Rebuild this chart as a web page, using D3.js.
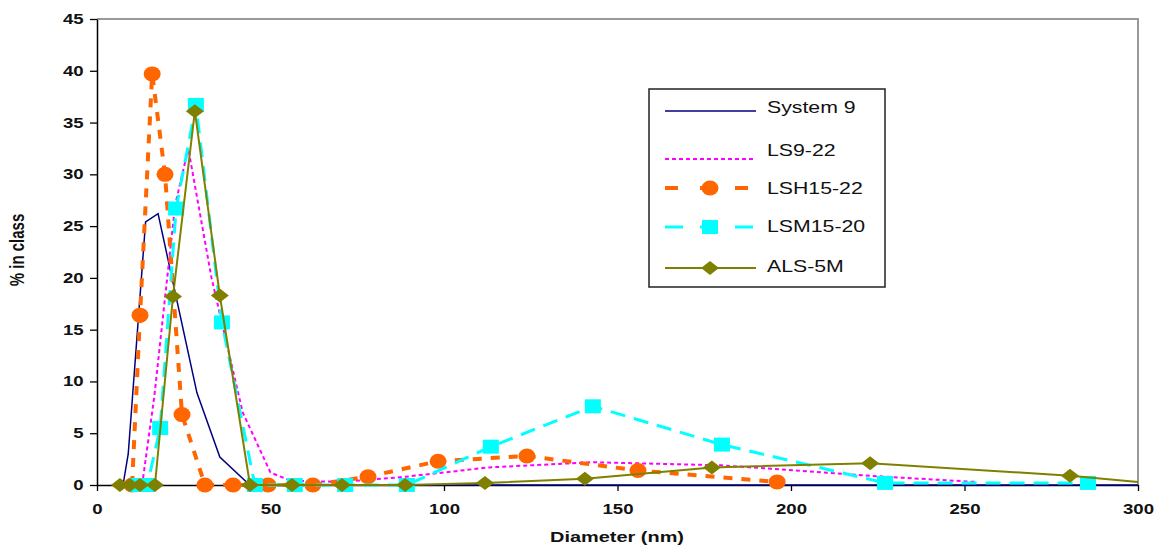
<!DOCTYPE html>
<html>
<head>
<meta charset="utf-8">
<script src="https://cdn.jsdelivr.net/npm/d3@7"></script>
<style>
  body { margin: 0; background: #fff; }
  text { font-family: "Liberation Sans", Arial, sans-serif; fill: #111; }
</style>
</head>
<body>
<div id="chart"></div>
<script>
// donnees
var sys9X = [7.5, 9, 14, 17.6, 28.8, 35.4, 44, 300];
var sys9Y = [0, 3, 25.4, 26.2, 8.9, 2.7, 0, 0];

var ls922X = [13, 16.5, 22.5, 26.3, 33, 42, 50, 56, 71, 89, 113, 143, 180, 227, 253];
var ls922Y = [0, 8.5, 27, 32.5, 20, 7, 1.2, 0.4, 0.3, 0.8, 1.7, 2.2, 1.9, 0.8, 0.3];

var lsh1522X = [10.1, 12.4, 15.9, 19.6, 24.5, 31.1, 39.2, 49.3, 62.2, 78.1, 98.3, 123.9, 155.9, 196];
var lsh1522Y = [0, 16.4, 39.7, 30, 6.8, 0, 0, 0, 0, 0.8, 2.3, 2.8, 1.4, 0.3];

var lsm1520X = [11.5, 14.5, 18.2, 22.8, 28.5, 36, 45.5, 57, 71.5, 89.3, 113.5, 142.9, 180.1, 227.1, 285.6];
var lsm1520Y = [0, 0, 5.5, 26.7, 36.7, 15.7, 0, 0, 0, 0, 3.7, 7.6, 3.9, 0.2, 0.2];

var als5mX = [6.6, 9.5, 12.4, 16.7, 21.9, 28.2, 35.4, 44.1, 56.2, 70.6, 88.8, 111.8, 140.6, 177.2, 222.8, 280.4, 300];
var als5mY = [0, 0, 0, 0, 18.2, 36.1, 18.3, 0, 0, 0, 0, 0.2, 0.6, 1.7, 2.1, 0.9, 0.3];

var xTicks = [0, 50, 100, 150, 200, 250, 300];
var yTicks = [0, 5, 10, 15, 20, 25, 30, 35, 40, 45];

var seriesNames = ["System 9", "LS9-22", "LSH15-22", "LSM15-20", "ALS-5M"];

// taille du svg
const width = 1156, height = 548;
const plot = { left: 97, right: 1138, top: 19, bottom: 485 };
const stretch = 1.33; // le texte de l'image est etire horizontalement

var svg = d3.select("#chart")
  .append("svg")
  .attr("width", width)
  .attr("height", height);

var x = d3.scaleLinear().domain([0, 300]).range([plot.left, plot.right]);
var y = d3.scaleLinear().domain([0, 45]).range([plot.bottom, plot.top]);

// bordure grise haut + droite
svg.append("path")
  .attr("d", "M" + plot.left + "," + plot.top + "H" + plot.right + "V" + plot.bottom)
  .attr("fill", "none")
  .attr("stroke", "#999")
  .attr("stroke-width", 2);

// axes
var yAxis = svg.append("g")
  .attr("transform", "translate(" + plot.left + ",0)")
  .call(d3.axisLeft(y).tickValues(yTicks).tickSize(7).tickSizeOuter(0));
yAxis.select(".domain").attr("stroke", "#000").attr("stroke-width", 1.5);
yAxis.selectAll(".tick line").attr("stroke", "#000").attr("stroke-width", 1.3);
yAxis.selectAll(".tick text")
  .attr("x", -10)
  .attr("transform", "scale(" + stretch + ",1)")
  .style("font-size", "14px")
  .style("font-weight", "bold")
  .style("font-family", "Liberation Sans, Arial, sans-serif")
  .attr("fill", "#111");

var xAxis = svg.append("g")
  .attr("transform", "translate(0," + plot.bottom + ")")
  .call(d3.axisBottom(x).tickValues(xTicks).tickSize(6).tickSizeOuter(0));
xAxis.select(".domain").attr("stroke", "#000").attr("stroke-width", 1.5);
xAxis.selectAll(".tick line").attr("stroke", "#000").attr("stroke-width", 1.3);
xAxis.selectAll(".tick text")
  .attr("y", 29)
  .attr("dy", null)
  .attr("transform", "scale(" + stretch + ",1)")
  .style("font-size", "14px")
  .style("font-weight", "bold")
  .style("font-family", "Liberation Sans, Arial, sans-serif")
  .attr("fill", "#111");

// titres des axes
svg.append("text")
  .attr("transform", "translate(617,542) scale(" + stretch + ",1)")
  .attr("text-anchor", "middle")
  .style("font-size", "15px")
  .style("font-weight", "bold")
  .text("Diameter (nm)");

svg.append("text")
  .attr("transform", "translate(24,250) rotate(-90) scale(1," + stretch + ")")
  .attr("text-anchor", "middle")
  .style("font-size", "15px")
  .style("font-weight", "bold")
  .text("% in class");

// styles des series
var styles = [
  { color: "#000080", width: 1.5, dash: null, marker: null },
  { color: "#ff00ff", width: 2, dash: "4,3", marker: null },
  { color: "#ff6600", width: 4, dash: "9,9", marker: "circle" },
  { color: "#00ffff", width: 3, dash: "15,9", marker: "square" },
  { color: "#808000", width: 2, dash: null, marker: "diamond" }
];

var allSeries = [
  d3.zip(sys9X, sys9Y),
  d3.zip(ls922X, ls922Y),
  d3.zip(lsh1522X, lsh1522Y),
  d3.zip(lsm1520X, lsm1520Y),
  d3.zip(als5mX, als5mY)
];

svg.append("clipPath").attr("id", "clip")
  .append("rect")
  .attr("x", plot.left).attr("y", plot.top - 10)
  .attr("width", plot.right - plot.left + 4)
  .attr("height", plot.bottom - plot.top + 20);

var line = d3.line()
  .x(function (d) { return x(d[0]); })
  .y(function (d) { return y(d[1]); });

function drawMarker(g, type, cx, cy, color) {
  if (type == "circle") {
    g.append("ellipse").attr("cx", cx).attr("cy", cy)
      .attr("rx", 8.5).attr("ry", 7.5).attr("fill", color);
  } else if (type == "square") {
    g.append("rect").attr("x", cx - 8).attr("y", cy - 7)
      .attr("width", 16).attr("height", 14).attr("fill", color);
  } else if (type == "diamond") {
    g.append("path")
      .attr("d", "M" + (cx - 9) + "," + cy + "L" + cx + "," + (cy - 7) +
        "L" + (cx + 9) + "," + cy + "L" + cx + "," + (cy + 7) + "Z")
      .attr("fill", color);
  }
}

var plotG = svg.append("g").attr("clip-path", "url(#clip)");

allSeries.forEach(function (pts, i) {
  var st = styles[i];
  var g = plotG.append("g");
  g.append("path")
    .datum(pts)
    .attr("d", line)
    .attr("fill", "none")
    .attr("stroke", st.color)
    .attr("stroke-width", st.width)
    .attr("stroke-dasharray", st.dash);
  if (st.marker) {
    pts.forEach(function (d) {
      if (d[0] < 300) drawMarker(g, st.marker, x(d[0]), y(d[1]), st.color);
    });
  }
});

// legende
var legend = svg.append("g");
legend.append("rect")
  .attr("x", 649).attr("y", 89)
  .attr("width", 236).attr("height", 198)
  .attr("fill", "#fff")
  .attr("stroke", "#222")
  .attr("stroke-width", 1.5);

var lineY = [111, 159, 188, 227, 268];
var textY = [107, 150, 188, 226, 266];

seriesNames.forEach(function (name, i) {
  var st = styles[i];
  legend.append("line")
    .attr("x1", 665).attr("x2", 756)
    .attr("y1", lineY[i]).attr("y2", lineY[i])
    .attr("stroke", st.color)
    .attr("stroke-width", st.width)
    .attr("stroke-dasharray", i == 2 ? "13,22" : (i == 3 ? "18,17" : st.dash))
    .attr("stroke-dashoffset", 0);
  if (st.marker) drawMarker(legend, st.marker, 710, lineY[i], st.color);
  legend.append("text")
    .attr("transform", "translate(767," + (textY[i] + 6) + ") scale(" + stretch + ",1)")
    .style("font-size", "16px")
    .text(name);
});
</script>
</body>
</html>
